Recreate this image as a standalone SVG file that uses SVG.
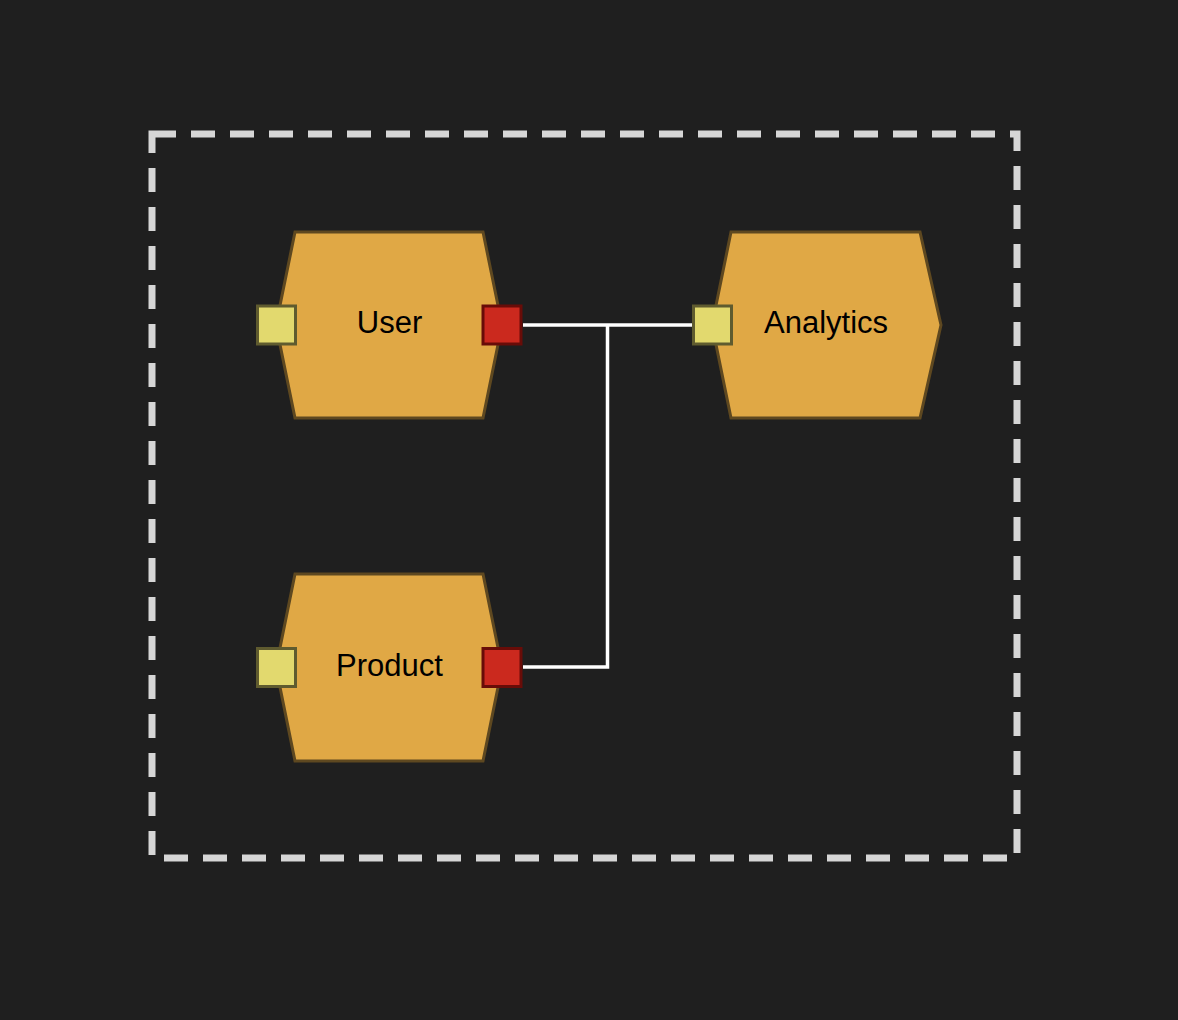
<svg xmlns="http://www.w3.org/2000/svg" width="1178" height="1020" viewBox="0 0 1178 1020">
<style>
.hex{fill:#e0a845;stroke:#5e4820;stroke-width:3;stroke-linejoin:miter}
.in{fill:#e2d96e;stroke:#5f5b2f;stroke-width:3}
.out{fill:#cb291e;stroke:#680c08;stroke-width:3}
.lbl{font-family:"Liberation Sans",Arial,sans-serif;font-size:31px;fill:#000;text-anchor:middle}
.edge{fill:none;stroke:#ffffff;stroke-width:3.5}
</style>
<rect width="1178" height="1020" fill="#1f1f1f"/>
<g id="boundary">
<rect x="152" y="134" width="865" height="724" fill="none" stroke="#d6d6d6" stroke-width="7" stroke-dasharray="24 15"/>
</g>
<g id="connectors">
<path class="edge" d="M523 325 H692"/>
<path class="edge" d="M523 667 H607.5 V325"/>
</g>
<g id="user">
<polygon class="hex" points="295,232 483,232 502,325 483,418 295,418 276,325"/>
<rect class="in" x="257.5" y="306" width="38" height="38"/>
<rect class="out" x="483" y="306" width="38" height="38"/>
<text class="lbl" x="389.5" y="333">User</text>
</g>
<g id="analytics">
<polygon class="hex" points="731,232 920,232 941,325 920,418 731,418 712,325"/>
<rect class="in" x="693.5" y="306" width="38" height="38"/>
<text class="lbl" x="826" y="333">Analytics</text>
</g>
<g id="product">
<polygon class="hex" points="295,574 483,574 502,667.5 483,761 295,761 276,667.5"/>
<rect class="in" x="257.5" y="648.5" width="38" height="38"/>
<rect class="out" x="483" y="648.5" width="38" height="38"/>
<text class="lbl" x="389.5" y="676">Product</text>
</g>
</svg>
